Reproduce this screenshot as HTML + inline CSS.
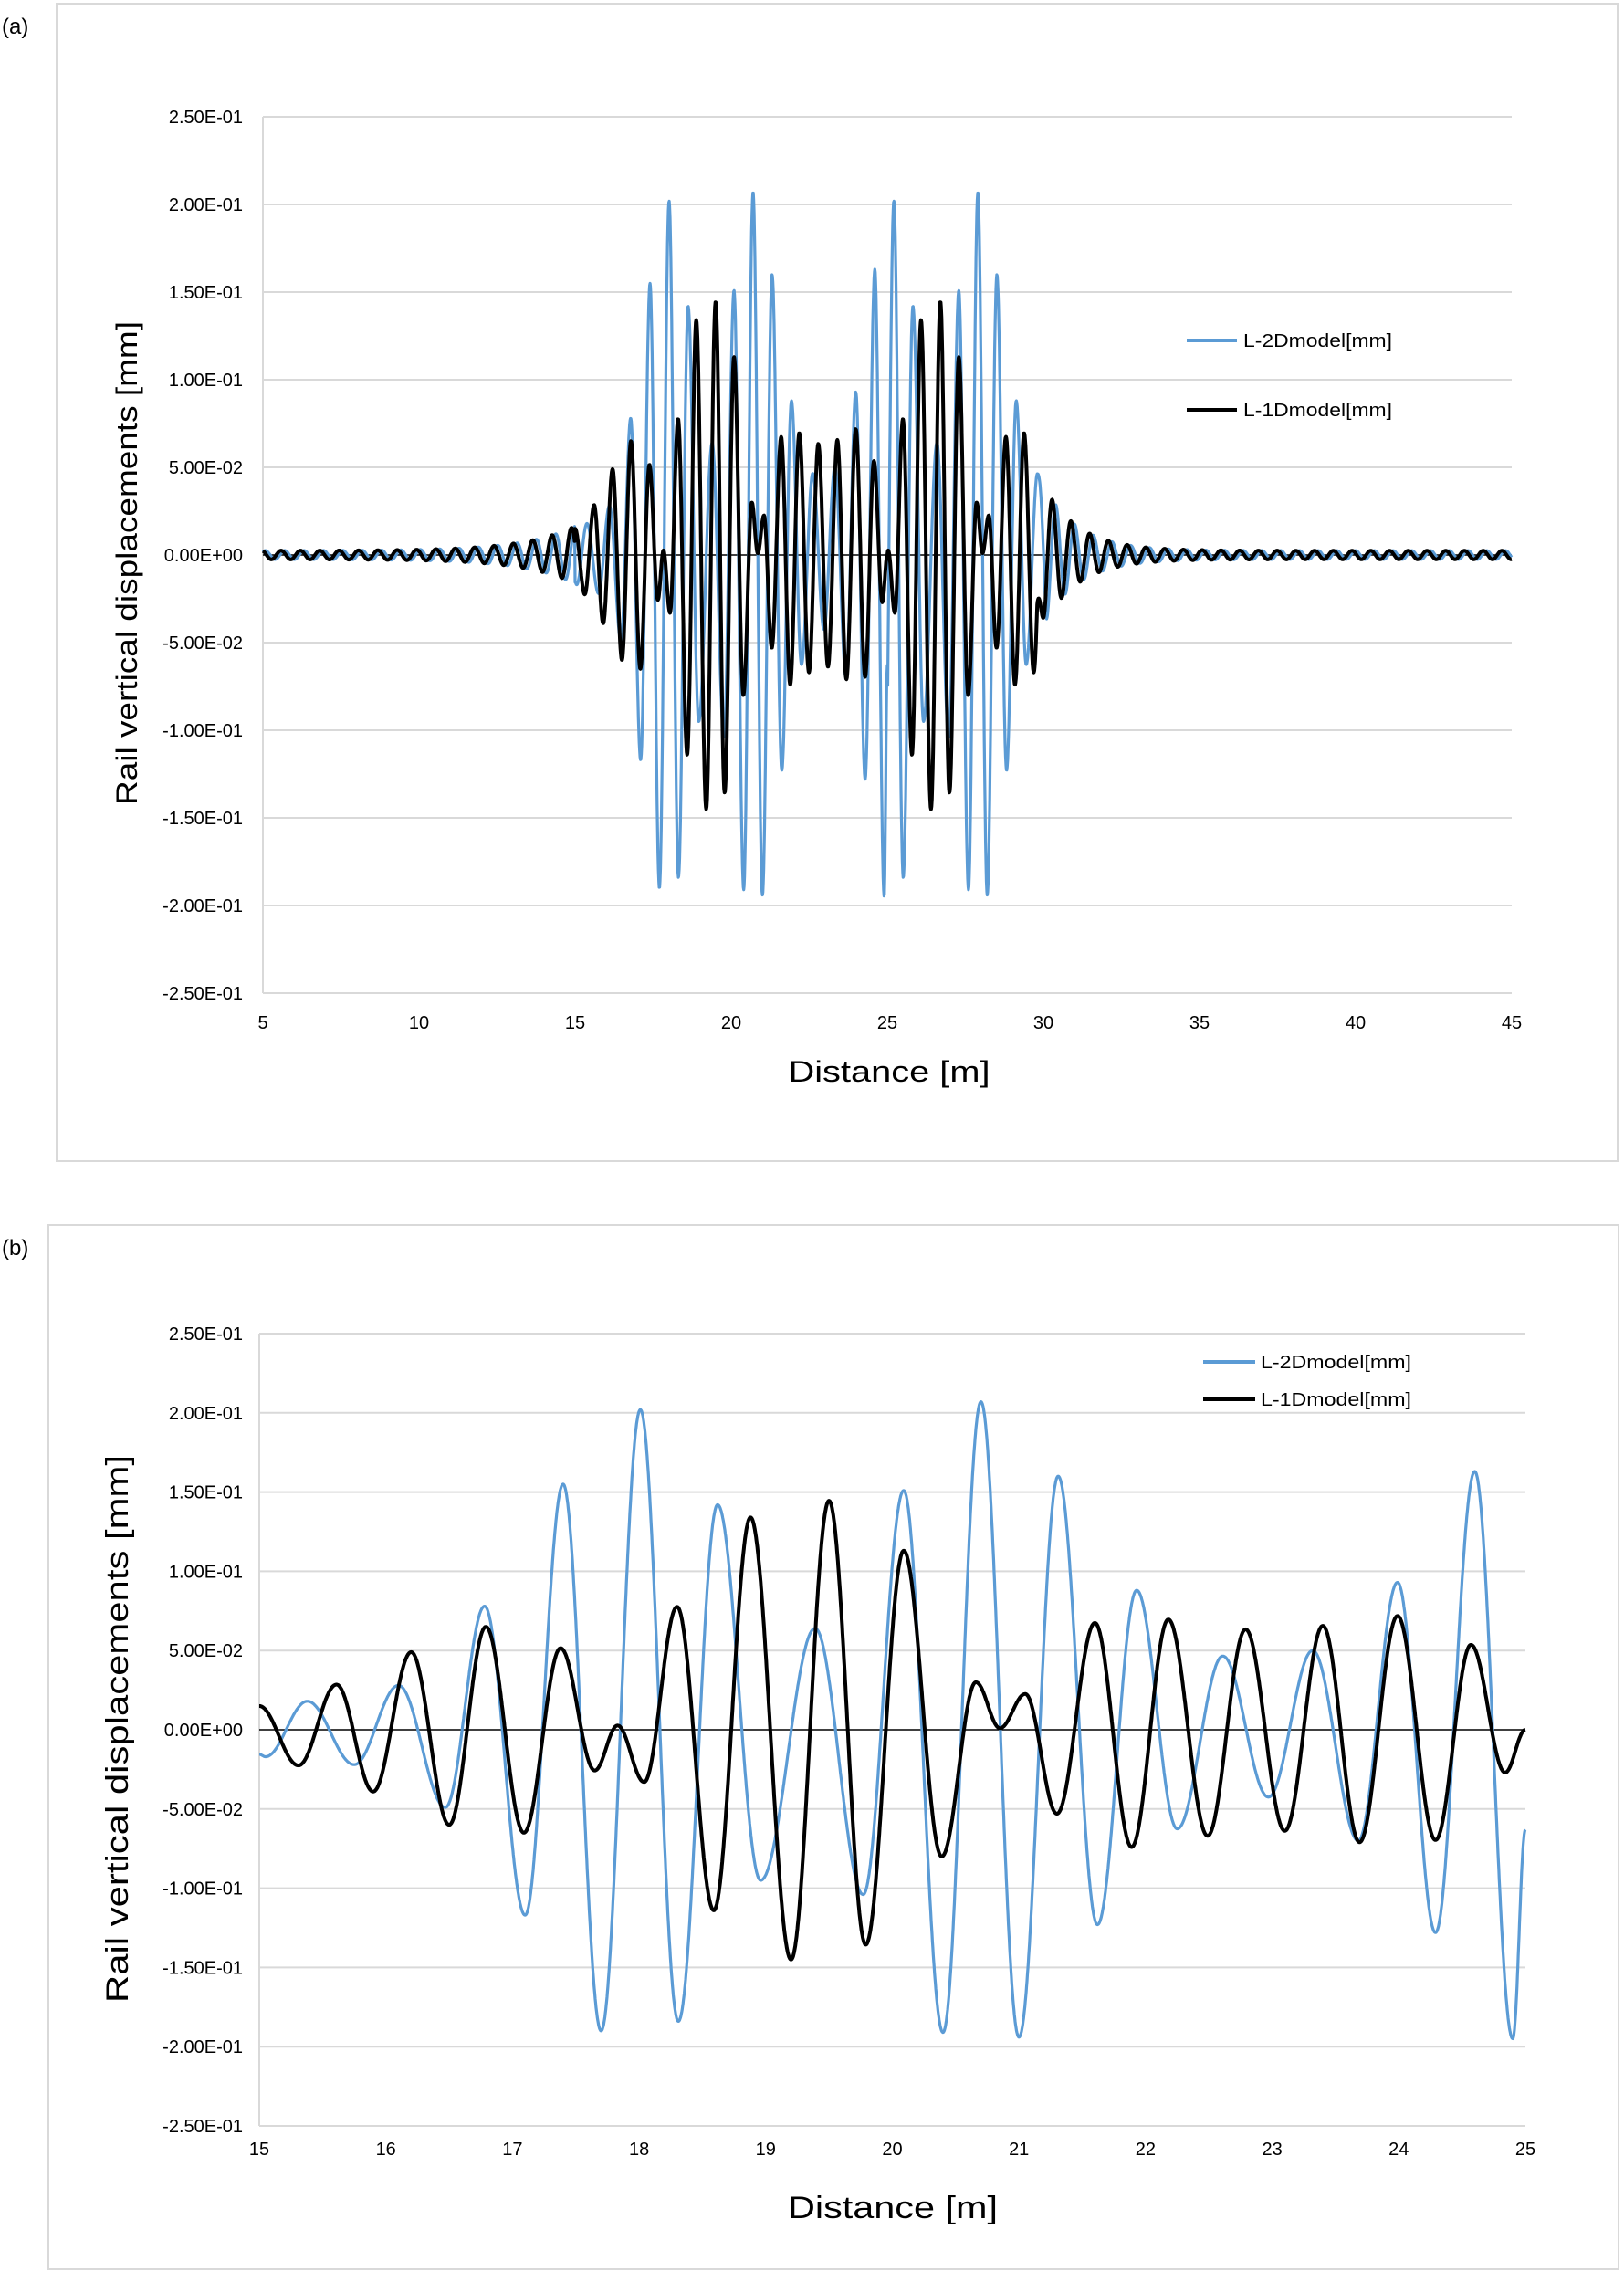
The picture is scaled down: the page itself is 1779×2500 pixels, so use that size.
<!DOCTYPE html>
<html><head><meta charset="utf-8">
<style>
html,body{margin:0;padding:0;background:#fff;}
svg{display:block;}
text{font-family:"Liberation Sans",sans-serif;fill:#000;}
</style></head>
<body>
<svg id="s" width="1779" height="2500" viewBox="0 0 1779 2500" xmlns="http://www.w3.org/2000/svg">
<rect x="0" y="0" width="1779" height="2500" fill="#fff"/>
<rect x="62" y="4" width="1710" height="1268" fill="none" stroke="#d9d9d9" stroke-width="2"/>
<rect x="53" y="1342" width="1720" height="1144" fill="none" stroke="#d9d9d9" stroke-width="2"/>
<text x="2" y="37" font-size="24">(a)</text>
<text x="2" y="1375" font-size="24">(b)</text>
<g id="ga"></g>
<g id="gb"></g>
<text x="0" y="0" font-size="32" text-anchor="middle" transform="translate(150,617) rotate(-90)" textLength="530" lengthAdjust="spacingAndGlyphs">Rail vertical displacements [mm]</text>
<text x="0" y="0" font-size="34" text-anchor="middle" transform="translate(140,1894) rotate(-90)" textLength="600" lengthAdjust="spacingAndGlyphs">Rail vertical displacements [mm]</text>
<text x="974" y="1185" font-size="32" text-anchor="middle" textLength="221" lengthAdjust="spacingAndGlyphs">Distance [m]</text>
<text x="978" y="2430" font-size="34" text-anchor="middle" textLength="230" lengthAdjust="spacingAndGlyphs">Distance [m]</text>
<line x1="1300" y1="373" x2="1355" y2="373" stroke="#5b9bd5" stroke-width="4"/>
<text x="1362" y="380" font-size="20" textLength="163" lengthAdjust="spacingAndGlyphs">L-2Dmodel[mm]</text>
<line x1="1300" y1="449" x2="1355" y2="449" stroke="#000" stroke-width="4"/>
<text x="1362" y="456" font-size="20" textLength="163" lengthAdjust="spacingAndGlyphs">L-1Dmodel[mm]</text>
<line x1="1318" y1="1492" x2="1375" y2="1492" stroke="#5b9bd5" stroke-width="4"/>
<text x="1381" y="1499" font-size="20" textLength="165" lengthAdjust="spacingAndGlyphs">L-2Dmodel[mm]</text>
<line x1="1318" y1="1533" x2="1375" y2="1533" stroke="#000" stroke-width="4"/>
<text x="1381" y="1540" font-size="20" textLength="165" lengthAdjust="spacingAndGlyphs">L-1Dmodel[mm]</text>
</svg>
<script>
var NS="http://www.w3.org/2000/svg";
function el(p,t,a,txt){var e=document.createElementNS(NS,t);for(var k in a)e.setAttribute(k,a[k]);if(txt!==undefined)e.textContent=txt;p.appendChild(e);return e;}
var B=[[15,-0.0155],[15.05,-0.017],[15.38,0.018],[15.75,-0.022],[16.1,0.028],[16.47,-0.049],[16.78,0.078],[17.1,-0.117],[17.4,0.155],[17.7,-0.19],[18.01,0.202],[18.31,-0.184],[18.62,0.142],[18.96,-0.095],[19.39,0.064],[19.77,-0.104],[20.09,0.151],[20.4,-0.191],[20.7,0.207],[21.0,-0.194],[21.31,0.16],[21.62,-0.123],[21.93,0.088],[22.25,-0.0625],[22.61,0.0465],[22.97,-0.0425],[23.32,0.05],[23.68,-0.07],[23.99,0.093],[24.29,-0.128],[24.6,0.163],[24.9,-0.195],[25.0,-0.063]];
var K=[[15,0.015],[15.31,-0.0225],[15.61,0.0285],[15.9,-0.039],[16.2,0.049],[16.5,-0.06],[16.79,0.065],[17.09,-0.065],[17.38,0.0515],[17.65,-0.0257],[17.83,0.0027],[18.04,-0.033],[18.3,0.0776],[18.59,-0.114],[18.88,0.134],[19.2,-0.145],[19.5,0.1445],[19.79,-0.1356],[20.09,0.113],[20.39,-0.08],[20.66,0.03],[20.85,0.001],[21.05,0.0226],[21.3,-0.053],[21.6,0.0674],[21.89,-0.074],[22.18,0.0696],[22.49,-0.067],[22.79,0.0634],[23.1,-0.0638],[23.4,0.0656],[23.69,-0.071],[23.99,0.0718],[24.29,-0.0696],[24.57,0.0536],[24.84,-0.027],[25.0,0]];
function interp(L,x){if(x<=L[0][0])return L[0][1];for(var i=0;i<L.length-1;i++){if(x<=L[i+1][0]){var t=(x-L[i][0])/(L[i+1][0]-L[i][0]);return L[i][1]+(L[i+1][1]-L[i][1])*(1-Math.cos(Math.PI*t))/2;}}return L[L.length-1][1];}
function full(L,x,ph){
 if(x<15){var A=0.0025+0.014*Math.exp((x-15)/1.6);return A*Math.cos(2*Math.PI*(x-15)/0.62+ph);}
 if(x<=25)return interp(L,x);
 if(x<=29.8)return interp(L,x-7.2);
 var v0=interp(L,29.8-7.2);var A2=0.045*Math.exp(-(x-29.8)/1.1)+0.0025;
 var w=Math.min(1,(x-29.8)/0.3);
 return (1-w)*v0+w*A2*Math.cos(2*Math.PI*(x-29.8)/0.6+ph);
}
function fmt(v){if(Math.abs(v)<1e-9)return "0.00E+00";var s=(v<0?"-":"");var a=Math.abs(v);var e=Math.floor(Math.log10(a)+1e-9);var m=a/Math.pow(10,e);
 var es=(e<0?"-":"+")+(Math.abs(e)<10?"0":"")+Math.abs(e);return s+m.toFixed(2)+"E"+es;}
function chart(g,x0,x1,X0,X1,T,Bt,xticks,yFont,ticks){
 var ys=(Bt-T)/0.5,Z=T+0.25*ys;
 for(var i=0;i<=10;i++){var y=T+i*(Bt-T)/10;
  if(i!=5)el(g,"line",{x1:X0,y1:y,x2:X1,y2:y,stroke:"#d9d9d9","stroke-width":2});
  var v=Math.round((0.25-i*0.05)*100)/100;
  el(g,"text",{x:266,y:y+7,"font-size":yFont,"text-anchor":"end"},fmt(v));}
 el(g,"line",{x1:X0,y1:T,x2:X0,y2:Bt,stroke:"#d9d9d9","stroke-width":2});
 for(var j=0;j<xticks.length;j++){var xv=xticks[j];var px=X0+(xv-x0)/(x1-x0)*(X1-X0);
  el(g,"text",{x:px,y:ticks,"font-size":yFont,"text-anchor":"middle"},""+xv);}
 el(g,"line",{x1:X0,y1:Z,x2:X1,y2:Z,stroke:"#000","stroke-width":1.5});
 var series=[[B,"#5b9bd5",3.2,0],[K,"#000",4,1.2]];
 for(var s2=0;s2<2;s2++){var L=series[s2][0];var d="";var N=3000;
  for(var n=0;n<=N;n++){var x=x0+(x1-x0)*n/N;var v=full(L,x,series[s2][3]);
   var px=X0+(x-x0)/(x1-x0)*(X1-X0);var py=Z-v*ys;d+=(n?"L":"M")+px.toFixed(1)+" "+py.toFixed(1);}
  el(g,"path",{d:d,fill:"none",stroke:series[s2][1],"stroke-width":series[s2][2],"stroke-linejoin":"round"});}
}
chart(document.getElementById("ga"),5,45,288,1656,128,1088,[5,10,15,20,25,30,35,40,45],20,1127);
chart(document.getElementById("gb"),15,25,284,1671,1461,2329,[15,16,17,18,19,20,21,22,23,24,25],20,2361);
</script>
</body></html>
